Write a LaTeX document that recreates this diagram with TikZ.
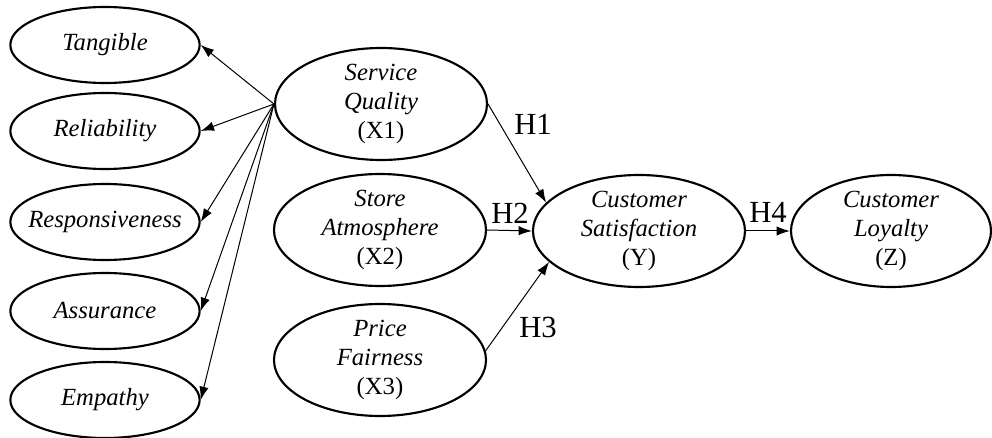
\documentclass[tikz,border=0pt]{standalone}
\usepackage{fontspec}
\setmainfont{Liberation Serif}
\usetikzlibrary{shapes.geometric,arrows.meta}
\begin{document}
\begin{tikzpicture}[x=0.75pt,y=-0.75pt,
  latent/.style={ellipse,draw,line width=1.6pt,inner sep=-15pt,align=center,
    font=\fontsize{18.5}{21.5}\selectfont},
  dimbox/.style={latent,minimum width=142pt,minimum height=57pt},
  construct/.style={latent,minimum width=159pt,minimum height=84pt},
  link/.style={-{Latex[length=10pt,width=7pt]},line width=0.75pt},
  hyp/.style={font=\fontsize{23}{27}\selectfont,inner sep=0pt}]
\useasboundingbox (0,0) rectangle (992,438);

% dimensions of service quality
\node[dimbox] (tan) at (105,45)  {\textit{Tangible}};
\node[dimbox] (rel) at (105,131) {\textit{Reliability}};
\node[dimbox] (res) at (105,222) {\textit{Responsiveness}};
\node[dimbox] (ass) at (105,311) {\textit{Assurance}};
\node[dimbox] (emp) at (105,400) {\textit{Empathy}};

% exogenous constructs
\node[construct] (sq) at (381,104) {\textit{Service}\\\textit{Quality}\\(X1)};
\node[construct] (sa) at (380,230) {\textit{Store}\\\textit{Atmosphere}\\(X2)};
\node[construct] (pf) at (380,360) {\textit{Price}\\\textit{Fairness}\\(X3)};

% endogenous constructs
\node[construct] (cs) at (639,231) {\textit{Customer}\\\textit{Satisfaction}\\(Y)};
\node[construct,minimum width=150pt] (cl) at (891,231) {\textit{Customer}\\\textit{Loyalty}\\(Z)};

% indicator arrows
\foreach \d in {tan,rel,res,ass,emp}
  \draw[link] (sq.west) -- (\d.east);

% structural paths
\draw[link] (sq.east) -- (cs.163);
\draw[link] (sa.east) -- (cs.west);
\draw[link] (pf.5) -- (cs.199);
\draw[link] (cs.east) -- (cl.west);

% hypothesis labels
\node[hyp] (h1) at (533,124) {H1};
\node[hyp] (h2) at (510,213) {H2};
\node[hyp] (h3) at (538,327) {H3};
\node[hyp] (h4) at (768,212) {H4};
\end{tikzpicture}
\end{document}
